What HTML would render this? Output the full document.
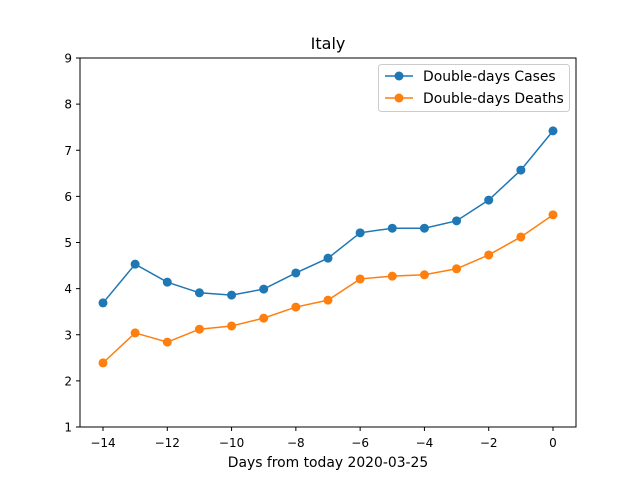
<!DOCTYPE html>
<html><head><meta charset="utf-8"><style>
body{margin:0;background:#fff}
svg{display:block;font-family:"DejaVu Sans","Liberation Sans",sans-serif}
</style></head><body>
<svg id="chart" width="640" height="480">
<rect width="640" height="480" fill="#fff"/>
<text x="328" y="49" font-size="16" text-anchor="middle">Italy</text>
<g id="axes"></g>
<g id="series"></g>
<rect x="80" y="58" width="496" height="369" fill="none" stroke="#000" stroke-width="1"/>
<text x="328" y="467" font-size="13.9" text-anchor="middle">Days from today 2020-03-25</text>
<g>
<rect x="378.5" y="64.5" width="191" height="47" fill="#fff" fill-opacity="0.8" stroke="#ccc" rx="3"/>
<g>
<line x1="385" y1="76" x2="413" y2="76" stroke="#1f77b4" stroke-width="1.5"/>
<circle cx="399" cy="76" r="4.5" fill="#1f77b4"/>
<text x="423" y="81" font-size="13.9">Double-days Cases</text></g>
<g>
<line x1="385" y1="98" x2="413" y2="98" stroke="#ff7f0e" stroke-width="1.5"/>
<circle cx="399" cy="98" r="4.5" fill="#ff7f0e"/>
<text x="423" y="103" font-size="13.9">Double-days Deaths</text></g>
</g>
</svg>
<script>
const days=[-14,-13,-12,-11,-10,-9,-8,-7,-6,-5,-4,-3,-2,-1,0];
const cases=[3.69,4.53,4.14,3.91,3.86,3.99,4.34,4.66,5.21,5.31,5.31,5.47,5.92,6.57,7.42];
const deaths=[2.39,3.04,2.84,3.12,3.19,3.36,3.60,3.75,4.21,4.27,4.30,4.43,4.73,5.12,5.60];
const xTicks=[-14,-12,-10,-8,-6,-4,-2,0];
const yTicks=[1,2,3,4,5,6,7,8,9];
const NS="http://www.w3.org/2000/svg";
const X=v=>103+(v+14)*(450/14);
const Y=v=>427-(v-1)*(369/8);
const ax=document.getElementById('axes'),se=document.getElementById('series');
function mk(t,a,p){const e=document.createElementNS(NS,t);for(const k in a)e.setAttribute(k,a[k]);p.appendChild(e);return e;}
xTicks.forEach(t=>{
 const g=mk('g',{},ax);
 
 
 mk('line',{x1:X(t),x2:X(t),y1:427,y2:431,stroke:'#000'},g);
 const s=mk('text',{x:X(t),y:447,'font-size':12,'text-anchor':'middle'},g);
 s.textContent=t<0?'\u2212'+(-t):String(t);
});
yTicks.forEach(t=>{
 const g=mk('g',{},ax);
 
 
 mk('line',{x1:76,x2:80,y1:Y(t),y2:Y(t),stroke:'#000'},g);
 const s=mk('text',{x:72,y:Y(t)+4.5,'font-size':12,'text-anchor':'end'},g);
 s.textContent=String(t);
});
function draw(vals,color,name){
 const g=mk('g',{},se);
 
 
 mk('polyline',{points:vals.map((v,i)=>X(days[i])+','+Y(v)).join(' '),fill:'none',stroke:color,'stroke-width':1.5},g);
 vals.forEach((v,i)=>{
  const c=mk('circle',{cx:X(days[i]),cy:Y(v),r:4.5,fill:color},g);
  
  
 });
}
draw(cases,'#1f77b4','cases-series');
draw(deaths,'#ff7f0e','deaths-series');
</script>
</body></html>
